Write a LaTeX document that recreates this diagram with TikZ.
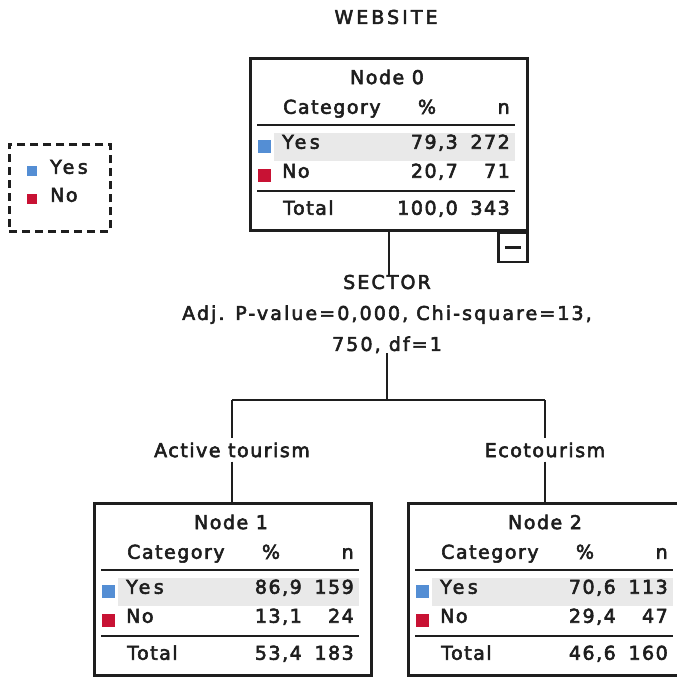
\documentclass[tikz,border=0pt]{standalone}
\usepackage{fontspec}
\setmainfont[LetterSpace=8, FakeBold=3]{DejaVu Sans}
\usetikzlibrary{calc}
\definecolor{ink}{HTML}{1E1E1E}
\definecolor{yesblue}{RGB}{84,142,212}
\definecolor{nored}{RGB}{200,18,52}
\definecolor{band}{HTML}{E9E9E9}
\tikzset{
  lbl/.style={inner sep=0pt, text=ink, font=\fontsize{19}{22}\selectfont},
  rule/.style={draw=ink, line width=2.6pt},
  boxline/.style={draw=ink, line width=2.6pt},
  conn/.style={draw=ink, line width=2.6pt},
}
\newcommand\treebody[8]{%
  \node[boxline, minimum width=277pt, minimum height=172pt, anchor=north west, inner sep=0pt] (#1) at (0,0) {};
  \node[lbl] (#1t) at (138,20) {#2};
  \node[lbl, anchor=mid west] (#1hc) at (34,54) {Category};
  \node[lbl, anchor=mid] (#1hp) at (178,54) {\%};
  \node[lbl, anchor=mid east] (#1hn) at (261,54) {n};
  \draw[rule] (8,68) -- (266,68);
  \fill[band] (25,76) rectangle (266,104);
  \fill[yesblue] (9,83) rectangle (22,96);
  \node[lbl, anchor=mid west, font=\fontsize{19}{22}\selectfont\addfontfeatures{LetterSpace=18}] (#1y) at (33,89) {Yes};
  \node[lbl, anchor=mid east] (#1yp) at (209,89) {#3};
  \node[lbl, anchor=mid east] (#1yn) at (261,89) {#4};
  \fill[nored] (9,112) rectangle (22,125);
  \node[lbl, anchor=mid west] (#1n) at (33,118) {No};
  \node[lbl, anchor=mid east] (#1np) at (209,118) {#5};
  \node[lbl, anchor=mid east] (#1nn) at (261,118) {#6};
  \draw[rule] (8,134) -- (266,134);
  \node[lbl, anchor=mid west] (#1tt) at (34,155) {Total};
  \node[lbl, anchor=mid east] (#1tp) at (209,155) {#7};
  \node[lbl, anchor=mid east] (#1tn) at (261,155) {#8};
}
\begin{document}
\begin{tikzpicture}[x=1pt, y=-1pt]
\useasboundingbox (0,0) rectangle (677,677);
\clip (0,0) rectangle (677,677);
\fill[white] (0,0) rectangle (677,677);

\node[lbl, font=\fontsize{19}{22}\selectfont\addfontfeatures{LetterSpace=16}] (title) at (386,17) {WEBSITE};

% legend
\node[draw=ink, line width=2.6pt, dash pattern=on 8pt off 5pt, minimum width=101pt, minimum height=87pt, anchor=north west, inner sep=0pt] (legend) at (8,143) {};
\fill[yesblue] (27,166) rectangle (37,176);
\node[lbl, anchor=mid west, font=\fontsize{19}{22}\selectfont\addfontfeatures{LetterSpace=18}] (legyes) at (50,171) {Yes};
\fill[nored] (27,194) rectangle (37,204);
\node[lbl, anchor=mid west] (legno) at (50,199) {No};

% node 0
\begin{scope}[shift={(249,57)}]
\treebody{n0}{Node 0}{79,3}{272}{20,7}{71}{100,0}{343}
\end{scope}
\node[boxline, minimum width=29pt, minimum height=29pt, anchor=north east, inner sep=0pt] (minus) at (n0.south east) {};
\draw[ink, line width=2.6pt] ($(minus.center)+(-8,0)$) -- ($(minus.center)+(8,0)$);

% split info
\node[lbl, align=center, font=\fontsize{19}{31}\selectfont\addfontfeatures{LetterSpace=11}] (sector) at (387,314) {SECTOR\\Adj. P-value=0,000, Chi-square=13,\\750, df=1};
\coordinate (split) at (387,400);
\coordinate (lsplit) at (232,400);
\coordinate (rsplit) at (545,400);

% children
\begin{scope}[shift={(93,502)}]
\treebody{n1}{Node 1}{86,9}{159}{13,1}{24}{53,4}{183}
\end{scope}
\begin{scope}[shift={(407,502)}]
\treebody{n2}{Node 2}{70,6}{113}{29,4}{47}{46,6}{160}
\end{scope}

\node[lbl, inner sep=4pt] (lab1) at (232,450) {Active tourism};
\node[lbl, inner sep=4pt] (lab2) at (545,450) {Ecotourism};

\draw[conn] (n0.south) -- (n0.south |- sector.north);
\draw[conn] (sector.south -| split) -- (split);
\draw[conn] (lsplit) -- (rsplit);
\draw[conn] (lsplit) -- (lsplit |- lab1.north);
\draw[conn] (rsplit) -- (rsplit |- lab2.north);
\draw[conn] (lsplit |- lab1.south) -- (lsplit |- n1.north);
\draw[conn] (rsplit |- lab2.south) -- (rsplit |- n2.north);
\end{tikzpicture}
\end{document}
